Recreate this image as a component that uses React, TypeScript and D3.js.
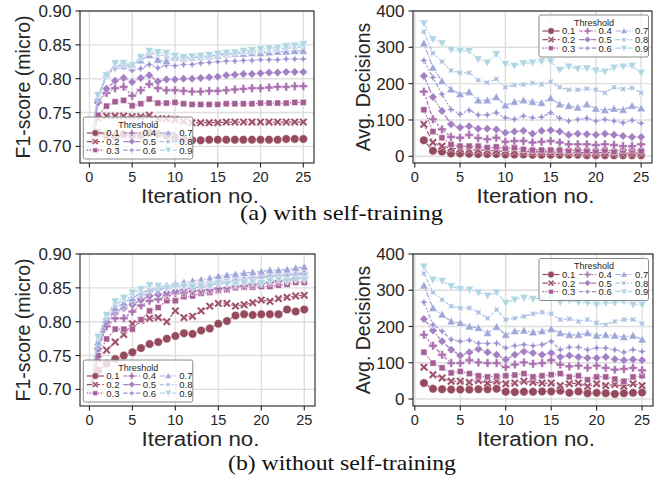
import React from "react"
import * as d3 from "d3"

// thresholds shown in the legend, one series each
const thresholds = ["0.1", "0.2", "0.3", "0.4", "0.5", "0.6", "0.7", "0.8", "0.9"]

// x values
const iterF1 = [0, 1, 2, 3, 4, 5, 6, 7, 8, 9, 10, 11, 12, 13, 14, 15, 16, 17, 18, 19, 20, 21, 22, 23, 24, 25]
const iterDec = [1, 2, 3, 4, 5, 6, 7, 8, 9, 10, 11, 12, 13, 14, 15, 16, 17, 18, 19, 20, 21, 22, 23, 24, 25]

const xTicks = [0, 5, 10, 15, 20, 25]
const yTicksF1 = [0.7, 0.75, 0.8, 0.85, 0.9]
const yTicksDec = [0, 100, 200, 300, 400]

// (a) with self-training: F1 per threshold
const f1WithSelf = [
  [0.697, 0.72, 0.716, 0.715, 0.718, 0.716, 0.716, 0.72, 0.718, 0.716, 0.713, 0.711, 0.709, 0.709, 0.71, 0.71, 0.71, 0.71, 0.71, 0.71, 0.71, 0.71, 0.71, 0.711, 0.711, 0.711],
  [0.697, 0.742, 0.745, 0.745, 0.745, 0.744, 0.744, 0.746, 0.741, 0.741, 0.74, 0.737, 0.735, 0.735, 0.735, 0.735, 0.736, 0.736, 0.736, 0.736, 0.736, 0.736, 0.736, 0.736, 0.736, 0.736],
  [0.697, 0.746, 0.7595, 0.766, 0.768, 0.76, 0.763, 0.77, 0.764, 0.764, 0.765, 0.763, 0.762, 0.762, 0.762, 0.762, 0.763, 0.763, 0.763, 0.763, 0.764, 0.764, 0.764, 0.764, 0.765, 0.765],
  [0.697, 0.765, 0.779, 0.786, 0.788, 0.775, 0.783, 0.792, 0.786, 0.783, 0.783, 0.782, 0.781, 0.781, 0.782, 0.782, 0.783, 0.784, 0.785, 0.786, 0.786, 0.787, 0.788, 0.788, 0.789, 0.789],
  [0.697, 0.765, 0.785, 0.797, 0.801, 0.795, 0.801, 0.805, 0.796, 0.799, 0.799, 0.8, 0.8, 0.801, 0.802, 0.803, 0.805, 0.806, 0.807, 0.807, 0.808, 0.809, 0.809, 0.81, 0.81, 0.81],
  [0.697, 0.77, 0.805, 0.815, 0.817, 0.812, 0.815, 0.821, 0.816, 0.82, 0.819, 0.821, 0.821, 0.823, 0.824, 0.825, 0.826, 0.826, 0.827, 0.827, 0.828, 0.828, 0.828, 0.829, 0.829, 0.829],
  [0.697, 0.772, 0.806, 0.819, 0.819, 0.821, 0.827, 0.835, 0.828, 0.826, 0.831, 0.83, 0.831, 0.832, 0.833, 0.834, 0.836, 0.837, 0.837, 0.838, 0.838, 0.839, 0.84, 0.84, 0.841, 0.841],
  [0.697, 0.775, 0.805, 0.82, 0.82, 0.818, 0.83, 0.838, 0.836, 0.833, 0.83, 0.83, 0.831, 0.832, 0.833, 0.835, 0.836, 0.838, 0.839, 0.84, 0.841, 0.842, 0.843, 0.845, 0.846, 0.847],
  [0.697, 0.776, 0.805, 0.823, 0.823, 0.82, 0.832, 0.841, 0.839, 0.838, 0.834, 0.832, 0.833, 0.834, 0.835, 0.837, 0.838, 0.839, 0.841, 0.842, 0.844, 0.845, 0.846, 0.848, 0.849, 0.851],
]

// (a) with self-training: avg decisions per threshold
const decWithSelf = [
  [44, 15, 13, 8, 8, 7, 6, 6, 6, 5, 5, 5, 4, 4, 4, 4, 4, 4, 3, 3, 3, 3, 3, 3, 3],
  [88, 38, 28, 22, 20, 18, 17, 16, 15, 14, 14, 13, 12, 12, 12, 11, 11, 10, 10, 10, 10, 10, 9, 9, 9],
  [128, 68, 51, 33, 28, 28, 28, 24, 26, 22, 24, 19, 17, 17, 17, 17, 15, 17, 15, 15, 17, 13, 17, 17, 15],
  [178, 102, 74, 53, 51, 59, 50, 47, 51, 40, 42, 42, 38, 40, 42, 38, 33, 33, 33, 31, 33, 31, 28, 28, 33],
  [221, 163, 125, 88, 79, 83, 76, 76, 74, 65, 68, 70, 62, 70, 72, 68, 59, 62, 61, 59, 62, 59, 56, 53, 53],
  [264, 217, 171, 129, 116, 127, 114, 114, 120, 106, 102, 111, 106, 108, 120, 105, 97, 101, 105, 97, 101, 97, 92, 99, 91],
  [311, 244, 207, 184, 171, 177, 154, 154, 163, 140, 150, 154, 150, 147, 160, 143, 139, 134, 143, 131, 127, 131, 128, 139, 132],
  [343, 284, 261, 236, 230, 230, 210, 203, 213, 190, 196, 198, 202, 198, 205, 190, 183, 183, 186, 183, 175, 190, 185, 188, 175],
  [366, 322, 311, 293, 290, 290, 267, 258, 281, 254, 249, 256, 258, 261, 261, 238, 247, 241, 242, 236, 233, 244, 247, 249, 230],
]

// (b) without self-training: F1 per threshold
const f1WithoutSelf = [
  [0.7, 0.728, 0.738, 0.745, 0.75, 0.755, 0.761, 0.767, 0.77, 0.775, 0.779, 0.783, 0.782, 0.787, 0.79, 0.797, 0.801, 0.809, 0.811, 0.81, 0.811, 0.811, 0.811, 0.818, 0.815, 0.818],
  [0.7, 0.745, 0.758, 0.77, 0.781, 0.797, 0.802, 0.805, 0.806, 0.8, 0.816, 0.806, 0.808, 0.816, 0.823, 0.827, 0.827, 0.823, 0.825, 0.828, 0.832, 0.83, 0.834, 0.836, 0.838, 0.839],
  [0.7, 0.75, 0.7745, 0.789, 0.789, 0.789, 0.803, 0.816, 0.821, 0.831, 0.831, 0.837, 0.838, 0.842, 0.843, 0.846, 0.847, 0.85, 0.851, 0.851, 0.852, 0.852, 0.854, 0.855, 0.858, 0.858],
  [0.7, 0.76, 0.793, 0.805, 0.805, 0.815, 0.824, 0.831, 0.833, 0.839, 0.842, 0.843, 0.845, 0.846, 0.847, 0.849, 0.85, 0.852, 0.853, 0.855, 0.857, 0.858, 0.86, 0.862, 0.864, 0.866],
  [0.7, 0.76, 0.8, 0.813, 0.82, 0.825, 0.832, 0.838, 0.84, 0.843, 0.845, 0.848, 0.85, 0.852, 0.854, 0.856, 0.858, 0.86, 0.862, 0.864, 0.866, 0.867, 0.868, 0.869, 0.87, 0.872],
  [0.7, 0.765, 0.805, 0.815, 0.822, 0.83, 0.838, 0.843, 0.846, 0.849, 0.851, 0.853, 0.855, 0.857, 0.858, 0.86, 0.862, 0.864, 0.865, 0.866, 0.868, 0.869, 0.87, 0.871, 0.872, 0.873],
  [0.7, 0.77, 0.808, 0.82, 0.828, 0.835, 0.842, 0.848, 0.851, 0.853, 0.856, 0.858, 0.86, 0.862, 0.864, 0.867, 0.869, 0.87, 0.872, 0.873, 0.874, 0.876, 0.876, 0.877, 0.879, 0.881],
  [0.7, 0.775, 0.81, 0.825, 0.832, 0.838, 0.842, 0.846, 0.849, 0.85, 0.853, 0.853, 0.855, 0.856, 0.857, 0.858, 0.86, 0.861, 0.862, 0.864, 0.865, 0.866, 0.867, 0.868, 0.869, 0.87],
  [0.7, 0.778, 0.81, 0.83, 0.835, 0.843, 0.848, 0.854, 0.853, 0.85, 0.853, 0.852, 0.851, 0.852, 0.853, 0.857, 0.856, 0.855, 0.857, 0.858, 0.857, 0.86, 0.862, 0.86, 0.863, 0.862],
]

// (b) without self-training: avg decisions per threshold
const decWithoutSelf = [
  [44, 28, 27, 26, 26, 26, 27, 27, 28, 20, 19, 20, 20, 21, 21, 23, 17, 21, 16, 17, 16, 14, 16, 17, 18],
  [88, 67, 58, 49, 49, 46, 51, 44, 49, 42, 44, 49, 46, 44, 44, 37, 42, 44, 35, 42, 37, 40, 35, 42, 37],
  [129, 99, 86, 72, 76, 70, 64, 61, 63, 64, 66, 70, 61, 64, 67, 70, 61, 64, 53, 61, 61, 55, 49, 61, 64],
  [177, 147, 122, 99, 99, 107, 101, 99, 99, 88, 95, 101, 97, 99, 107, 95, 90, 92, 86, 92, 86, 81, 83, 86, 79],
  [221, 189, 159, 136, 120, 129, 138, 129, 122, 109, 122, 131, 127, 122, 127, 116, 120, 116, 113, 113, 116, 110, 107, 109, 107],
  [267, 205, 187, 164, 159, 162, 154, 153, 154, 141, 147, 150, 147, 150, 159, 136, 143, 143, 136, 141, 141, 136, 129, 136, 131],
  [313, 251, 233, 214, 210, 200, 196, 182, 199, 177, 187, 189, 184, 187, 193, 182, 177, 177, 182, 175, 177, 175, 171, 175, 164],
  [346, 294, 274, 256, 251, 251, 239, 223, 246, 219, 223, 228, 235, 239, 235, 219, 221, 214, 219, 210, 205, 214, 219, 219, 208],
  [365, 329, 326, 311, 303, 302, 294, 285, 294, 265, 274, 279, 276, 279, 279, 267, 272, 267, 265, 260, 265, 265, 269, 260, 260],
]

const palette = ["#954a5e", "#9e4d6d", "#a65d94", "#aa70af", "#a47fc3", "#9e90d0", "#9fa7da", "#a8bfe0", "#b0d6e3"]
const markerKinds = ["circle", "x", "square", "plus", "diamond", "star", "up", "starx", "down"]
const dashes = [
  [],
  [4, 1.5],
  [1, 1],
  [3, 1.25, 1.5, 1.25],
  [5, 1, 1, 1],
  [3, 1.25, 1.25, 1.25, 1.25, 1.25],
  [4, 1, 4, 1, 1, 1],
  [3, 1.25, 3, 1.25, 1.25, 1.25],
  [4, 1, 1, 1, 1, 1],
]

const FONT = "'Liberation Sans', Arial, sans-serif"
const TEXT = "#262626"

const poly = (pts: number[][]) => "M" + pts.map(p => p[0].toFixed(2) + "," + p[1].toFixed(2)).join("L") + "Z"
const rot = (pts: number[][], a: number) =>
  pts.map(([x, y]) => [x * Math.cos(a) - y * Math.sin(a), x * Math.sin(a) + y * Math.cos(a)])

function markerPath(kind: string, m: number) {
  const e = m / 2
  if (kind === "circle") return `M${e},0A${e},${e} 0 1 1 ${-e},0A${e},${e} 0 1 1 ${e},0Z`
  if (kind === "square") {
    const h = m * 0.36
    return poly([[-h, -h], [h, -h], [h, h], [-h, h]])
  }
  if (kind === "diamond") return poly([[0, -e], [e, 0], [0, e], [-e, 0]])
  if (kind === "up") return poly([[0, -e], [e, e * 0.8], [-e, e * 0.8]])
  if (kind === "down") return poly([[0, e], [e, -e * 0.8], [-e, -e * 0.8]])
  if (kind === "plus" || kind === "x") {
    const w = kind === "plus" ? m / 6 : m / 7
    const ex = kind === "plus" ? e : e * 1.1
    let pts = [[-w, -ex], [w, -ex], [w, -w], [ex, -w], [ex, w], [w, w], [w, ex], [-w, ex], [-w, w], [-ex, w], [-ex, -w], [-w, -w]]
    if (kind === "x") pts = rot(pts, Math.PI / 4)
    return poly(pts)
  }
  // four-pointed stars
  const pts: number[][] = []
  for (let i = 0; i < 8; i++) {
    const r = i % 2 === 0 ? e : e * 0.42
    const a = (i * Math.PI) / 4 + (kind === "starx" ? Math.PI / 4 : 0) - Math.PI / 2
    pts.push([r * Math.cos(a), r * Math.sin(a)])
  }
  return poly(pts)
}

type PanelProps = {
  left: number
  top: number
  width: number
  height: number
  xDomain: number[]
  yDomain: number[]
  xs: number[]
  series: number[][]
  yTicks: number[]
  yFormat: (v: number) => string
  yLabel: string
  yLabelX: number
  legendLeft: number
  legendTop: number
}

function Legend({ left, top }: { left: number; top: number }) {
  const rows = [16, 24.6, 33.2]
  return (
    <g>
      <rect x={left} y={top} width={109.5} height={42} rx={2} fill="white" fillOpacity={0.8} stroke="#8a8a8a" strokeWidth={1} />
      <text x={left + 55} y={top + 10.5} textAnchor="middle" fontSize={9} fontFamily={FONT} fill={TEXT}>Threshold</text>
      {thresholds.map((t, i) => {
        const col = Math.floor(i / 3)
        const cy = top + rows[i % 3]
        const hx = left + 3.5 + col * 36.5
        return (
          <g key={t}>
            <line x1={hx} x2={hx + 17} y1={cy} y2={cy} stroke={palette[i]} strokeWidth={1.2}
              strokeDasharray={dashes[i].map(d => d * 1.4).join(" ")} />
            <path d={markerPath(markerKinds[i], 6.5)} transform={`translate(${hx + 8.5},${cy})`} fill={palette[i]} stroke="white" strokeWidth={0.4} />
            <text x={hx + 19.5} y={cy + 3.4} fontSize={9.5} fontFamily={FONT} fill={TEXT}>{t}</text>
          </g>
        )
      })}
    </g>
  )
}

function Panel(p: PanelProps) {
  const x = d3.scaleLinear().domain(p.xDomain).range([p.left, p.left + p.width])
  const y = d3.scaleLinear().domain(p.yDomain).range([p.top + p.height, p.top])
  const bottom = p.top + p.height
  const right = p.left + p.width
  const line = d3.line<number>().x((_, i) => x(p.xs[i])).y(d => y(d))
  return (
    <g>
      <rect x={p.left} y={p.top} width={p.width} height={p.height} fill="white" />
      {xTicks.map(t => (
        <line key={"gx" + t} x1={x(t)} x2={x(t)} y1={p.top} y2={bottom} stroke="#dedede" strokeWidth={1.4} />
      ))}
      {p.yTicks.map(t => (
        <line key={"gy" + t} x1={p.left} x2={right} y1={y(t)} y2={y(t)} stroke="#dedede" strokeWidth={1.4} />
      ))}
      {p.series.map((s, i) => (
        <g key={i}>
          <path d={line(s) || ""} fill="none" stroke={palette[i]} strokeWidth={1.2}
            strokeDasharray={dashes[i].map(d => d * 1.4).join(" ")} />
          {s.map((v, j) => (
            <path key={j} d={markerPath(markerKinds[i], 8.5)} transform={`translate(${x(p.xs[j])},${y(v)})`}
              fill={palette[i]} stroke="white" strokeWidth={0.5} />
          ))}
        </g>
      ))}
      <Legend left={p.legendLeft} top={p.legendTop} />
      <rect x={p.left} y={p.top} width={p.width} height={p.height} fill="none" stroke="#222" strokeWidth={1.1} />
      {xTicks.map(t => (
        <g key={"tx" + t}>
          <line x1={x(t)} x2={x(t)} y1={bottom} y2={bottom + 4.5} stroke="#222" strokeWidth={1.1} />
          <text x={x(t)} y={bottom + 18.7} textAnchor="middle" fontSize={14.5} fontFamily={FONT} fill={TEXT}>{t}</text>
        </g>
      ))}
      {p.yTicks.map(t => (
        <g key={"ty" + t}>
          <line x1={p.left - 4.5} x2={p.left} y1={y(t)} y2={y(t)} stroke="#222" strokeWidth={1.1} />
          <text x={p.left - 8.5} y={y(t) + 6} textAnchor="end" fontSize={17} fontFamily={FONT} fill={TEXT}>{p.yFormat(t)}</text>
        </g>
      ))}
      <text x={(p.left + right) / 2 + 3} y={bottom + 39.5} textAnchor="middle" fontSize={19.5} fontFamily={FONT} fill={TEXT}
        textLength={118} lengthAdjust="spacingAndGlyphs">Iteration no.</text>
      <text transform={`translate(${p.yLabelX},${(p.top + bottom) / 2}) rotate(-90)`} textAnchor="middle" fontSize={19.5}
        fontFamily={FONT} fill={TEXT}>{p.yLabel}</text>
    </g>
  )
}

const fmtF1 = (v: number) => v.toFixed(2)
const fmtDec = (v: number) => String(v)

export default function App() {
  return (
    <svg width={661} height={479} style={{ position: "absolute", left: 0, top: 0, background: "white" }}>
      <Panel left={80} top={11} width={234} height={152} xDomain={[-1.1, 26.25]} yDomain={[0.6755, 0.9]}
        xs={iterF1} series={f1WithSelf} yTicks={yTicksF1} yFormat={fmtF1} yLabel="F1-score (micro)" yLabelX={29.5}
        legendLeft={83.3} legendTop={117} />
      <Panel left={413} top={11} width={239} height={152} xDomain={[-0.2, 26.2]} yDomain={[-18.5, 400]}
        xs={iterDec} series={decWithSelf} yTicks={yTicksDec} yFormat={fmtDec} yLabel="Avg. Decisions" yLabelX={369.5}
        legendLeft={539} legendTop={15} />
      <Panel left={80} top={254} width={235} height={152} xDomain={[-1.1, 26.25]} yDomain={[0.6755, 0.9]}
        xs={iterF1} series={f1WithoutSelf} yTicks={yTicksF1} yFormat={fmtF1} yLabel="F1-score (micro)" yLabelX={29.5}
        legendLeft={83.3} legendTop={360} />
      <Panel left={413} top={254} width={240} height={152} xDomain={[-0.2, 26.2]} yDomain={[-19.3, 400]}
        xs={iterDec} series={decWithoutSelf} yTicks={yTicksDec} yFormat={fmtDec} yLabel="Avg. Decisions" yLabelX={369.5}
        legendLeft={539} legendTop={258.5} />
      <text x={341.5} y={220} textAnchor="middle" fontSize={21} fontFamily="'Liberation Serif', 'Times New Roman', serif"
        fill="#111" textLength={203} lengthAdjust="spacingAndGlyphs">(a) with self-training</text>
      <text x={342} y={470} textAnchor="middle" fontSize={21} fontFamily="'Liberation Serif', 'Times New Roman', serif"
        fill="#111" textLength={228} lengthAdjust="spacingAndGlyphs">(b) without self-training</text>
    </svg>
  )
}
